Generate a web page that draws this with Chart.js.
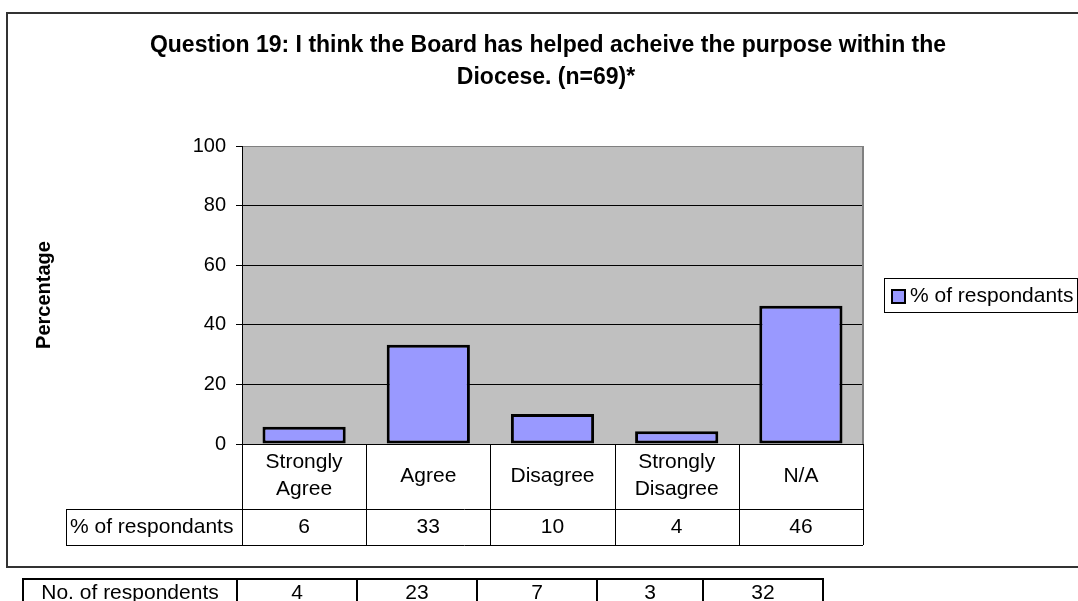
<!DOCTYPE html>
<html>
  <head>
    <meta charset="UTF-8">
    <title>Question 19</title>
    <script src="https://cdn.jsdelivr.net/npm/chart.js@4.4.0/dist/chart.umd.min.js"></script>
    <style type="text/css">
      html, body { margin: 0; padding: 0; background: #fff; overflow: hidden; }
      #wrap { position: relative; width: 1078px; height: 601px; }
      #myChart { position: absolute; left: 0; top: 0; }
      #respTable {
        position: absolute; left: 22px; top: 578px;
        border-collapse: collapse;
        font-family: "Liberation Sans", Arial, sans-serif; font-size: 21px; color: #000;
      }
      #respTable td {
        border: 2px solid #000; height: 24px; padding: 0; text-align: center;
        line-height: 24px;
      }
    </style>
  </head>
  <body>
    <div id="wrap">
      <canvas id="myChart" width="1078" height="601"></canvas>
      <table id="respTable"><tr id="respRow"></tr></table>
    </div>
    <script>
    var FONT = '"Liberation Sans", Arial, sans-serif';

    var titleLines = ['Question 19: I think the Board has helped acheive the purpose within the', 'Diocese. (n=69)*'];
    var categories = [['Strongly', 'Agree'], 'Agree', 'Disagree', ['Strongly', 'Disagree'], 'N/A'];
    var pctRespondants = [5.8, 33.3, 10.1, 4.3, 46.4];
    var pctLabels = ['6', '33', '10', '4', '46'];
    var respLabel = 'No. of respondents';
    var numRespondents = [4, 23, 7, 3, 32];
    var respWidths = [214, 120, 120, 120, 106, 120];

    // bottom table (outside the chart frame)
    var row = document.getElementById('respRow');
    [respLabel].concat(numRespondents).forEach(function(v, i) {
      var td = document.createElement('td');
      td.textContent = v;
      td.style.width = (respWidths[i] - 2) + 'px';
      row.appendChild(td);
    });

    var extras = {
      id: 'extras',
      beforeDraw: function(chart) {
        var c = chart.ctx, a = chart.chartArea;
        c.save();
        c.fillStyle = '#C0C0C0';
        c.fillRect(a.left, a.top, a.right - a.left, a.bottom - a.top);
        c.restore();
      },
      afterDraw: function(chart) {
        var c = chart.ctx, a = chart.chartArea, xs = chart.scales.x;
        var n = categories.length;
        var w = (a.right - a.left) / n;
        c.save();

        // plot right border
        c.strokeStyle = '#808080';
        c.lineWidth = 2;
        c.beginPath();
        c.moveTo(a.right, a.top);
        c.lineTo(a.right, a.bottom);
        c.stroke();

        // title
        c.fillStyle = '#000';
        c.textAlign = 'center';
        c.textBaseline = 'middle';
        c.font = 'bold 23px ' + FONT;
        c.fillText(titleLines[0], 548, 46);
        c.fillText(titleLines[1], 546, 78);

        // data table under the axis
        var rowTop = a.bottom, rowMid = 509, rowBot = 545;
        c.strokeStyle = '#000';
        c.lineWidth = 1;
        c.beginPath();
        for (var i = 0; i <= n; i++) {
          var x = Math.round(a.left + i * w) + 0.5;
          c.moveTo(x, rowTop);
          c.lineTo(x, rowBot);
        }
        c.moveTo(66, rowMid + 0.5); c.lineTo(a.right, rowMid + 0.5);
        c.moveTo(66, rowBot + 0.5); c.lineTo(a.right, rowBot + 0.5);
        c.moveTo(66.5, rowMid); c.lineTo(66.5, rowBot);
        c.stroke();

        c.font = '21px ' + FONT;
        categories.forEach(function(lab, i) {
          var cx = xs.getPixelForValue(i);
          var lines = Array.isArray(lab) ? lab : [lab];
          var y0 = 476 - (lines.length - 1) * 13.5;
          lines.forEach(function(t, j) { c.fillText(t, cx, y0 + j * 27); });
          c.fillText(pctLabels[i], cx, 527);
        });
        c.textAlign = 'left';
        c.fillText(chart.data.datasets[0].label, 70, 527);

        // legend
        c.strokeStyle = '#000';
        c.lineWidth = 1;
        c.strokeRect(884.5, 278.5, 193, 34);
        c.fillStyle = '#9999FF';
        c.fillRect(892, 290, 13, 13);
        c.lineWidth = 2;
        c.strokeRect(892, 290, 13, 13);
        c.fillStyle = '#000';
        c.fillText(chart.data.datasets[0].label, 910, 296);

        // outer frame
        c.strokeStyle = '#333';
        c.lineWidth = 2;
        c.beginPath();
        c.moveTo(1090, 13);
        c.lineTo(7, 13);
        c.lineTo(7, 567);
        c.lineTo(1090, 567);
        c.stroke();
        c.restore();
      }
    };

    var ctx = document.getElementById('myChart').getContext('2d');
    var chart = new Chart(ctx, {
      type: 'bar',
      data: {
        labels: categories,
        datasets: [{
          label: '% of respondants',
          data: pctRespondants,
          backgroundColor: '#9999FF',
          borderColor: '#000',
          borderWidth: 3,
          borderSkipped: false,
          barPercentage: 0.67,
          categoryPercentage: 1
        }]
      },
      options: {
        responsive: false,
        animation: false,
        devicePixelRatio: 1,
        layout: { padding: { left: 28, right: 215, top: 146, bottom: 56 } },
        plugins: {
          legend: { display: false },
          title: { display: false },
          tooltip: { enabled: false }
        },
        scales: {
          x: {
            ticks: { display: false },
            grid: { display: false },
            border: { display: false },
            afterFit: function(s) { s.height = 101; }
          },
          y: {
            min: 0,
            max: 100,
            ticks: { stepSize: 20, color: '#000', font: { size: 20, family: FONT }, padding: 10 },
            grid: {
              color: function(c) { return c.tick && c.tick.value === 100 ? '#808080' : '#000'; },
              tickColor: '#000',
              tickLength: 6,
              lineWidth: 1
            },
            border: { color: '#000', width: 1 },
            title: {
              display: true,
              text: 'Percentage',
              color: '#000',
              font: { size: 20, weight: 'bold', family: FONT },
              padding: { top: 4, bottom: 0 }
            },
            afterFit: function(s) { s.width = 214; }
          }
        }
      },
      plugins: [extras]
    });
    </script>
  </body>
</html>
